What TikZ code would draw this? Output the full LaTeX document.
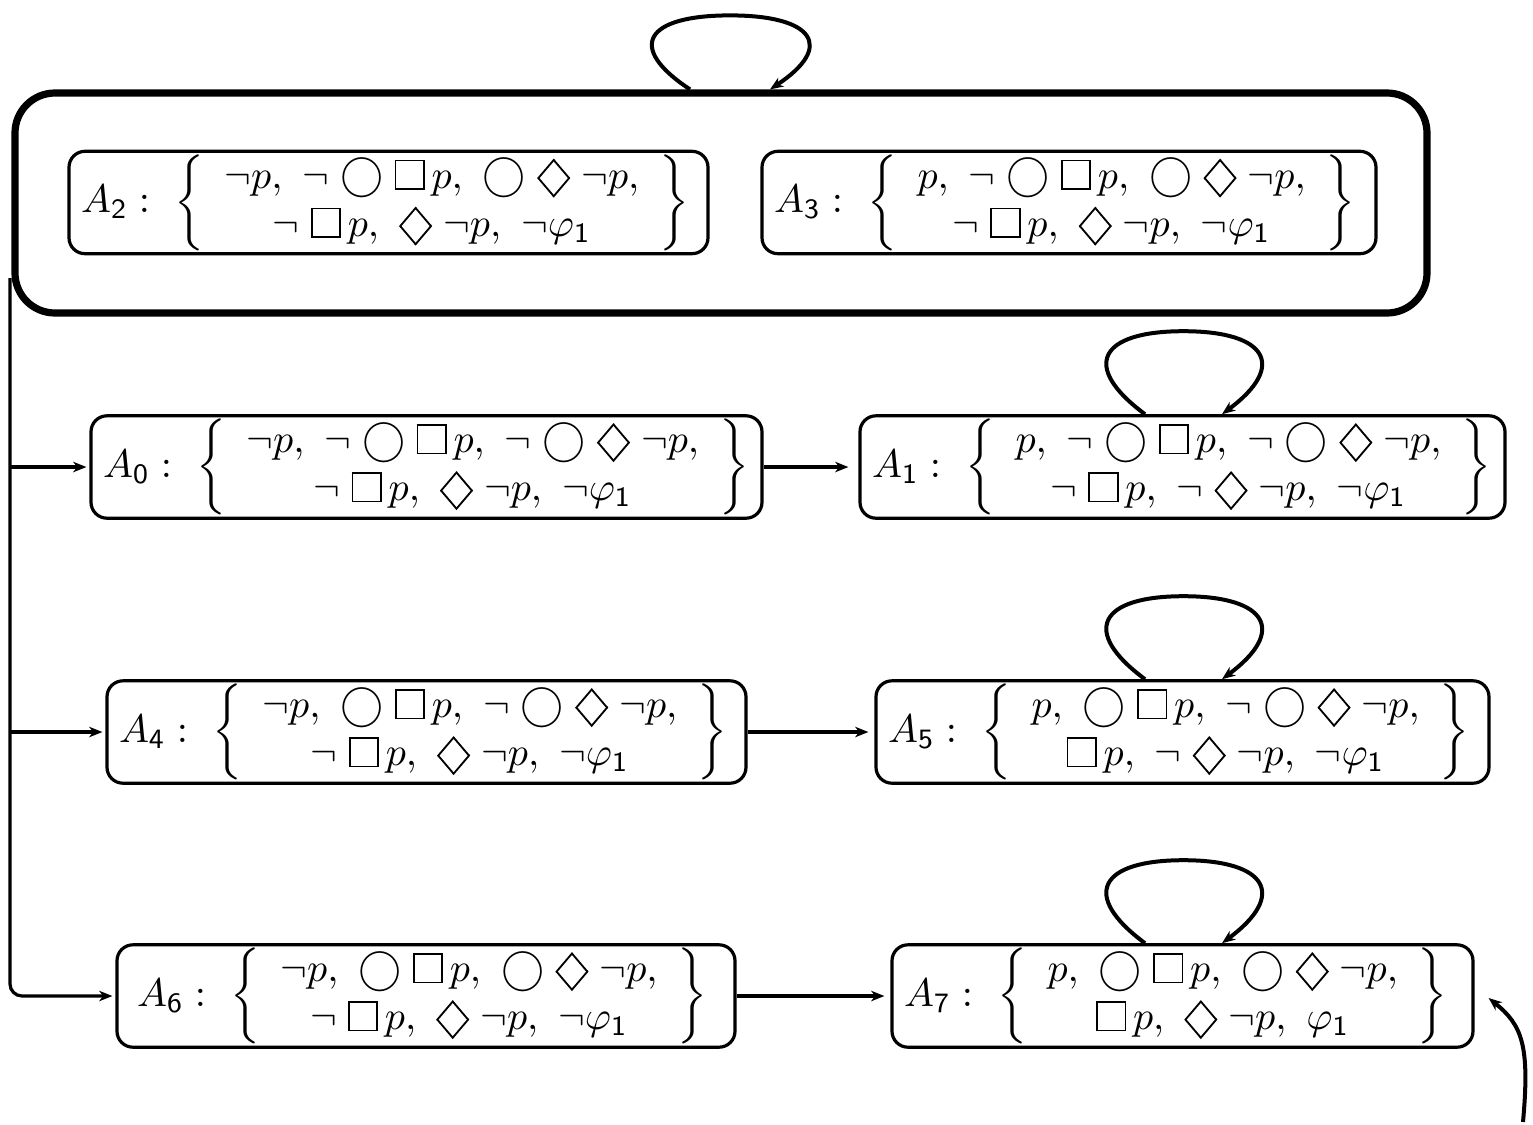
\documentclass[tikz,border=0pt]{standalone}
\usepackage{amsmath}
\usepackage{graphicx}
\usetikzlibrary{arrows.meta,calc}
\newcommand{\nxt}{\mathord{\vcenter{\hbox{\scalebox{1.08}{$\bigcirc$}}}}}
\newcommand{\alw}{\mathord{\setlength{\fboxsep}{0pt}\setlength{\fboxrule}{0.45pt}\fbox{\rule{0pt}{6.7pt}\rule{6.7pt}{0pt}}}\mkern3mu}
\newcommand{\evt}{\mathord{\vcenter{\hbox{\scalebox{0.85}[1]{\rotatebox{45}{\setlength{\fboxsep}{0pt}\setlength{\fboxrule}{0.5pt}\fbox{\rule{0pt}{5.9pt}\rule{5.9pt}{0pt}}}}}}}}
\newcommand{\cs}{,\ }
\newcommand{\stset}[3]{$A_{\mathsf{#1}} :\ \left\{\begin{array}{c} #2 \\ #3 \end{array}\right\}$}
\newcommand{\myloop}[4]{%
  \draw[loopline] ($(#1.north)+(#2,0)$)
    .. controls ($(#1.north)+(#2,0)+(-65,{-0.58*#4})$) and ($(#1.north)+({(#2+#3)/2},-#4)+(-84,0)$)
    .. ($(#1.north)+({(#2+#3)/2},-#4)$)
    .. controls ($(#1.north)+({(#2+#3)/2},-#4)+(84,0)$) and ($(#1.north)+(#3,0)+(65,{-0.58*#4})$)
    .. ($(#1.north)+(#3,0)$);}
\begin{document}
\begin{tikzpicture}[x=0.25pt,y=-0.25pt,
  statebox/.style={draw,line width=0.8pt,rounded corners=4pt,inner xsep=3pt,inner ysep=0pt,
    minimum height=25.6pt,align=left},
  groupbox/.style={draw,line width=1.8pt,rounded corners=10pt,minimum width=353pt,minimum height=55pt,inner sep=0pt},
  arr/.style={line width=0.8pt,-{Stealth[length=3.3pt,width=2.6pt,inset=1pt]}},
  loopline/.style={line width=1pt,-{Stealth[length=3.3pt,width=2.6pt,inset=1pt]}}]
\useasboundingbox (0,0) rectangle (1533,1125);

\node[groupbox] (G) at (721,203) {};
\node[statebox,text width=153.75pt] (A2) at (388.5,202.5)
  {\stset{2}{\neg p\cs\neg\;\nxt\;\alw p\cs\nxt\;\evt\;\neg p,}{\neg\;\alw p\cs\evt\;\neg p\cs\neg\varphi_{\mathsf{1}}}};
\node[statebox,text width=147.5pt] (A3) at (1069,202.5)
  {\stset{3}{p\cs\neg\;\nxt\;\alw p\cs\nxt\;\evt\;\neg p,}{\neg\;\alw p\cs\evt\;\neg p\cs\neg\varphi_{\mathsf{1}}}};

\node[statebox,text width=161.75pt] (A0) at (426.5,467)
  {\stset{0}{\neg p\cs\neg\;\nxt\;\alw p\cs\neg\;\nxt\;\evt\;\neg p,}{\neg\;\alw p\cs\evt\;\neg p\cs\neg\varphi_{\mathsf{1}}}};
\node[statebox,text width=155.25pt] (A1) at (1182.5,467)
  {\stset{1}{p\cs\neg\;\nxt\;\alw p\cs\neg\;\nxt\;\evt\;\neg p,}{\neg\;\alw p\cs\neg\;\evt\;\neg p\cs\neg\varphi_{\mathsf{1}}}};

\node[statebox,text width=153.75pt] (A4) at (426.5,732)
  {\stset{4}{\neg p\cs\nxt\;\alw p\cs\neg\;\nxt\;\evt\;\neg p,}{\neg\;\alw p\cs\evt\;\neg p\cs\neg\varphi_{\mathsf{1}}}};
\node[statebox,text width=147.25pt] (A5) at (1182.5,732)
  {\stset{5}{p\cs\nxt\;\alw p\cs\neg\;\nxt\;\evt\;\neg p,}{\alw p\cs\neg\;\evt\;\neg p\cs\neg\varphi_{\mathsf{1}}}};

\node[statebox,text width=148.5pt] (A6) at (426,996)
  {\hspace*{2pt}\stset{6}{\neg p\cs\nxt\;\alw p\cs\nxt\;\evt\;\neg p,}{\neg\;\alw p\cs\evt\;\neg p\cs\neg\varphi_{\mathsf{1}}}};
\node[statebox,text width=139.25pt] (A7) at (1182.5,996)
  {\stset{7}{p\cs\nxt\;\alw p\cs\nxt\;\evt\;\neg p,}{\alw p\cs\evt\;\neg p\cs\varphi_{\mathsf{1}}}};

% self loops
\myloop{G}{-31}{49}{74}
\myloop{A1}{-37.5}{39.5}{83}
\myloop{A5}{-37.5}{39.5}{83}
\myloop{A7}{-37.5}{39.5}{83}

% trunk on the left
\coordinate (trunk) at (10,278);
\draw[arr,rounded corners=3pt,shorten >=0.75pt] (trunk) |- (A6.west);
\draw[arr,shorten >=0.75pt] (trunk |- A0.west) -- (A0.west);
\draw[arr,shorten >=0.75pt] (trunk |- A4.west) -- (A4.west);

% horizontal transitions
\draw[arr,shorten >=2.5pt] (A0.east) -- (A1.west);
\draw[arr,shorten >=1.5pt] (A4.east) -- (A5.west);
\draw[arr,shorten >=1.5pt] (A6.east) -- (A7.west);

% initial arrow
\coordinate (init) at (1523,1122);
\draw[arr,line width=1pt] (init) .. controls (1530,1045) and (1522,1025) .. ($(A7.east)+(14,2)$);
\end{tikzpicture}
\end{document}
